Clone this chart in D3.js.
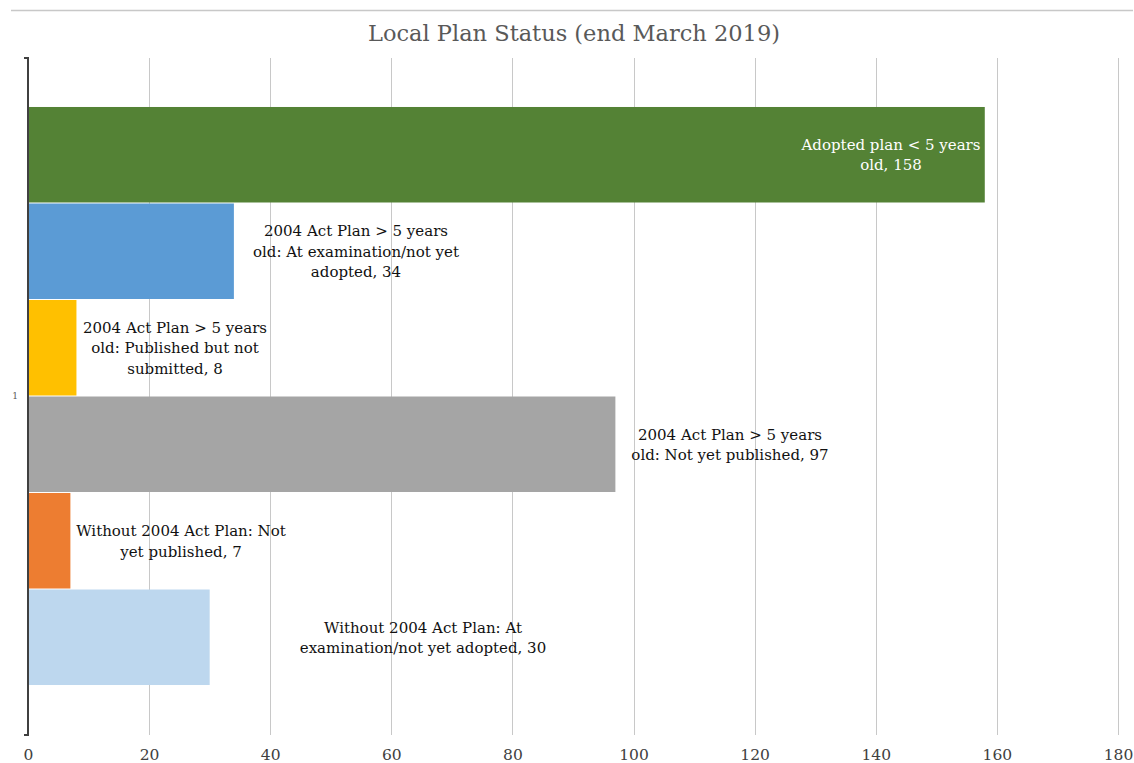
<!DOCTYPE html>
<html>
<head>
<meta charset="utf-8">
<script src="https://cdn.jsdelivr.net/npm/d3@7"></script>
<style>
  body { margin: 0; background: #fff; }
  text { font-family: Rockwell, "DejaVu Serif", serif; }
</style>
</head>
<body>
<script>
// data
const categories = ["1"];
const seriesNames = [
  "Adopted plan < 5 years old",
  "2004 Act Plan > 5 years old: At examination/not yet adopted",
  "2004 Act Plan > 5 years old: Published but not submitted",
  "2004 Act Plan > 5 years old: Not yet published",
  "Without 2004 Act Plan: Not yet published",
  "Without 2004 Act Plan: At examination/not yet adopted"
];
const values = [158, 34, 8, 97, 7, 30];
const labelLines = [
  ["Adopted plan < 5 years", "old, 158"],
  ["2004 Act Plan > 5 years", "old: At examination/not yet", "adopted, 34"],
  ["2004 Act Plan > 5 years", "old: Published but not", "submitted, 8"],
  ["2004 Act Plan > 5 years", "old: Not yet published, 97"],
  ["Without 2004 Act Plan: Not", "yet published, 7"],
  ["Without 2004 Act Plan: At", "examination/not yet adopted, 30"]
];
const xTicks = [0, 20, 40, 60, 80, 100, 120, 140, 160, 180];

const colors = ["#548235", "#5b9bd5", "#ffc000", "#a5a5a5", "#ed7d31", "#bdd7ee"];
// label centre x in pixels (labels were hand-placed in the original)
const labelCx = [891, 356, 175, 730, 181, 423];

width = 1134
height = 763
margin = ({top: 58, right: 16, bottom: 28, left: 28})

const svg = d3.select("body").append("svg")
  .attr("width", width)
  .attr("height", height);

// thin frame line at the top
svg.append("line")
  .attr("x1", 11).attr("x2", 1133)
  .attr("y1", 10.5).attr("y2", 10.5)
  .attr("stroke", "#c8c8c8").attr("stroke-width", 1.5);

svg.append("text")
  .attr("x", 574).attr("y", 33)
  .attr("text-anchor", "middle")
  .attr("dominant-baseline", "central")
  .attr("font-size", 22.5)
  .attr("fill", "#595959")
  .text("Local Plan Status (end March 2019)");

x = d3.scaleLinear()
  .domain([0, 180])
  .range([margin.left, 1118])

y0 = d3.scaleBand()
  .domain(categories)
  .range([margin.top, 735])
  .paddingInner(0)
  .paddingOuter(0.0846)

y1 = d3.scaleBand()
  .domain(seriesNames)
  .range([y0("1"), y0("1") + y0.bandwidth()])

// gridlines
svg.append("g")
  .selectAll("line")
  .data(xTicks.filter(d => d > 0))
  .join("line")
  .attr("x1", d => Math.round(x(d)) + 0.5)
  .attr("x2", d => Math.round(x(d)) + 0.5)
  .attr("y1", margin.top)
  .attr("y2", 735)
  .attr("stroke", "#c8c8c8");

// bars
const data = seriesNames.map((n, i) => ({name: n, value: values[i], color: colors[i], lines: labelLines[i], cx: labelCx[i]}));

svg.append("g")
  .selectAll("rect")
  .data(data)
  .join("rect")
  .attr("x", x(0))
  .attr("y", d => y1(d.name))
  .attr("width", d => x(d.value) - x(0))
  .attr("height", y1.bandwidth() - 1)
  .attr("fill", d => d.color);

// labels
const lh = 20.5;
const lab = svg.append("g")
  .selectAll("text")
  .data(data)
  .join("text")
  .attr("text-anchor", "middle")
  .attr("font-size", 15)
  .attr("fill", (d, i) => i === 0 ? "#ffffff" : "#111111");

lab.each(function(d) {
  const cy = y1(d.name) + y1.bandwidth() / 2;
  const n = d.lines.length;
  d3.select(this).selectAll("tspan")
    .data(d.lines)
    .join("tspan")
    .attr("x", d.cx)
    .attr("y", (t, j) => cy + (j - (n - 1) / 2) * lh)
    .attr("dominant-baseline", "central")
    .text(t => t);
});

// left axis line with end ticks
svg.append("path")
  .attr("d", `M24,${margin.top}H${margin.left}V735H24`)
  .attr("fill", "none")
  .attr("stroke", "#404040")
  .attr("stroke-width", 2);

svg.append("text")
  .attr("x", 15).attr("y", 396)
  .attr("text-anchor", "middle")
  .attr("dominant-baseline", "central")
  .attr("font-size", 9)
  .attr("fill", "#595959")
  .text(categories[0]);

// x tick labels
const xAxis = g => g
  .attr("transform", `translate(0,735)`)
  .call(d3.axisBottom(x).tickValues(xTicks).tickSize(0).tickPadding(14))
  .call(g => g.select(".domain").remove())
  .call(g => g.selectAll("text")
    .attr("font-size", 15.5)
    .attr("fill", "#404040")
    .style("font-family", 'Rockwell, "DejaVu Serif", serif'));

svg.append("g").call(xAxis);
</script>
</body>
</html>
